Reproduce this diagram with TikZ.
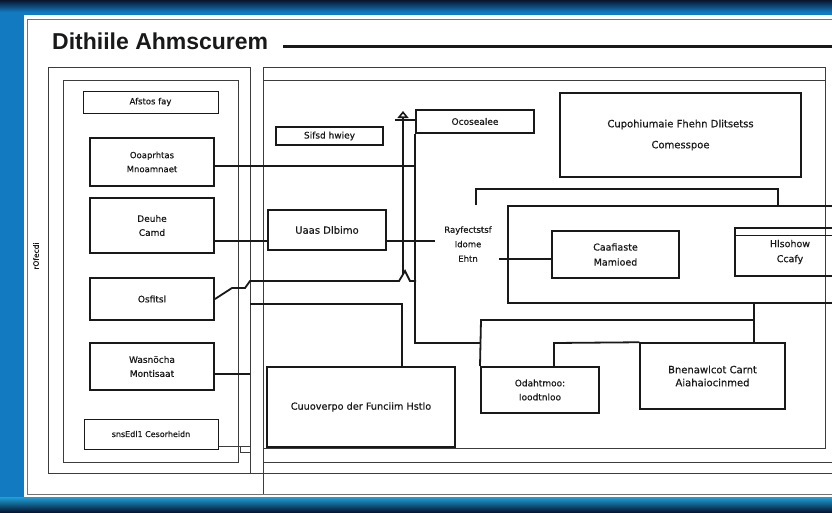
\documentclass[tikz,border=0pt]{standalone}
\usepackage{fontspec}
\setmainfont{Liberation Sans}
\newfontfamily\boxfont[FakeBold=0.5]{DejaVu Sans}
\usetikzlibrary{arrows.meta}
\definecolor{frameblue}{RGB}{18,122,192}
\definecolor{framecyan}{RGB}{30,160,215}
\definecolor{framenavy}{RGB}{8,22,48}
\definecolor{ink}{RGB}{25,25,25}
\begin{document}
\begin{tikzpicture}[x=1pt,y=-1pt,
  box/.style={draw=ink, line width=2pt, align=center, inner sep=0pt, text=ink,
    font=\boxfont\fontsize{9}{14}\selectfont},
  thinbox/.style={box, line width=1pt},
  medbox/.style={box, line width=1.5pt},
  sz/.style 2 args={minimum width=#1pt, minimum height=#2pt},
  conn/.style={draw=ink, line width=1.8pt},
  panel/.style={draw=ink!85, line width=0.9pt}]
\useasboundingbox (0,0) rectangle (832,512);
\clip (0,0) rectangle (832,512);
% frame
\fill[frameblue] (0,0) rectangle (832,512);
\shade[top color=framenavy, bottom color=frameblue] (0,0) rectangle (832,12);
\shade[top color=framecyan, bottom color=framenavy] (0,497) rectangle (832,512);
\fill[white] (24,15) rectangle (832,497);
\draw[panel, draw=black!55] (27,19) -- (832,19);
\draw[panel, draw=black!55] (27,19) -- (27,494) -- (832,494);
% title
\node[anchor=base west, inner sep=0pt, text=ink, font=\bfseries\fontsize{23}{26}\selectfont] (title) at (52,49) {Dithiile Ahmscurem};
\draw[line width=3pt, ink] (283,46) -- (832,46);
% side text
\node[rotate=90, font=\boxfont\fontsize{7.5}{8}\selectfont, text=ink] (side) at (36,256) {rOfecdi};
% panels
\draw[panel] (48,67) rectangle (250,473);
\draw[panel] (63,80) rectangle (238,462);
\draw[panel] (263,67) -- (825,67) -- (825,448) -- (263,448);
\draw[panel] (263,80) -- (825,80);
\draw[panel] (263,67) -- (263,494);
\draw[panel] (263,462) -- (832,462);
\draw[panel] (250,473) -- (832,473);
% left boxes
\node[thinbox, sz={135}{22}, font=\boxfont\fontsize{8.5}{14}\selectfont] (afstos) at (150.5,102) {Afstos fay};
\node[box, sz={124}{48}, font=\boxfont\fontsize{8.5}{14}\selectfont] (ooap) at (152,162) {Ooaprhtas\\Mnoamnaet};
\node[box, sz={124}{55}] (dbuhe) at (152,225.5) {Deuhe\\Camd};
\node[box, sz={124}{42}] (osit) at (152,299) {Osfitsl};
\node[box, sz={124}{47}] (wasn) at (152,366.5) {Wasnöcha\\Montisaat};
\node[thinbox, sz={134}{30}, font=\boxfont\fontsize{8}{14}\selectfont] (snse) at (151,434) {snsEdl1 Cesorheidn};
% right area boxes
\node[medbox, sz={107}{18}] (sifsd) at (329.5,136) {Sifsd hwiey};
\node[box, sz={118}{40}, font=\boxfont\fontsize{10}{14}\selectfont] (uaas) at (327,230) {Uaas Dlbimo};
\node[box, sz={118}{23}] (ooss) at (475,121.5) {Ocosealee};
\node[medbox, sz={241}{84}, font=\boxfont\fontsize{10}{21}\selectfont] (cnpo) at (680.5,135) {Cupohiumaie Fhehn Dlitsetss\\Comesspoe};
\draw[conn] (508,206) rectangle (840,303);
\node[box, sz={127}{47}, font=\boxfont\fontsize{9.5}{15}\selectfont] (caaf) at (615.5,254.5) {Caafiaste\\Mamioed};
\node[medbox, sz={110}{48}, font=\boxfont\fontsize{9.5}{15}\selectfont, text width=96pt] (hlso) at (790,252) {Hlsohow\\Ccafy};
\draw[line width=1.5pt, ink] ([yshift=-8pt]hlso.north west) -- ([yshift=-8pt]hlso.north east);
\node[box, sz={118}{46}] (odah) at (540,390) {Odahtmoo:\\Ioodtnloo};
\node[medbox, sz={145}{66}, font=\boxfont\fontsize{10}{13}\selectfont] (bnen) at (712.5,376) {Bnenawlcot Carnt\\Aiahaiocinmed};
\node[box, sz={188}{80}, font=\boxfont\fontsize{9.7}{12}\selectfont] (cuuo) at (361,407) {Cuuoverpo der Funciim Hstlo};
\node[align=center, inner sep=0pt, text=ink, font=\boxfont\fontsize{8.5}{14.5}\selectfont] (rayf) at (468,244) {Rayfectstsf\\Idome\\Ehtn};
% connectors
\draw[conn] (250,304) -- (402,304) -- (402,367);
\coordinate (c1) at (416,166);
\draw[conn] (ooap.east |- c1) -- (c1);
\coordinate (c2) at (435,241);
\draw[conn] (dbuhe.east |- c2) -- (uaas.west |- c2);
\draw[conn] (uaas.east |- c2) -- (c2);
\draw[conn] (osit.east) -- (232,288) -- (245,288) -- (250,281) -- (399,281) -- (405,271) -- (410,281) -- (416,281);
\draw[conn, -{Triangle[open, length=7pt, width=11pt, line width=1.6pt]}] (403,274) -- (403,111);
\coordinate (c3) at (395,120);
\draw[conn] (c3) -- (ooss.west |- c3);
\coordinate (c4) at (250,374);
\draw[conn] (wasn.east |- c4) -- (c4);
\coordinate (c5) at (250,446);
\draw[panel] (snse.east |- c5) -- (c5);
\draw[panel] (240,446) rectangle (250,452);
\coordinate (c8) at (481,343);
\draw[conn] (ooss.south west) -- (ooss.south west |- c8) -- (c8);
\draw[conn] (odah.north west) -- (481,320) -- (754,320);
\coordinate (c6) at (754,303);
\draw[conn] (c6) -- (c6 |- bnen.north);
\coordinate (c7) at (554,343);
\draw[conn] (c7 |- odah.north) -- (c7) -- (bnen.north west);
\draw[conn] (476,205) -- (476,189) -- (778,189) -- (778,206);
\coordinate (c9) at (499,259);
\draw[conn] (c9) -- (caaf.west |- c9);
\end{tikzpicture}
\end{document}
